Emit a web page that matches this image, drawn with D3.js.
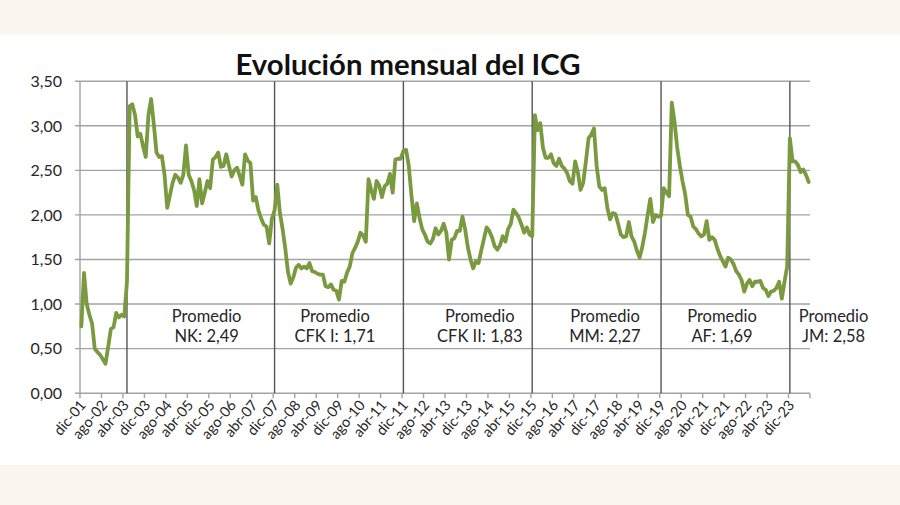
<!DOCTYPE html>
<html><head><meta charset="utf-8">
<script src="https://cdn.jsdelivr.net/npm/d3@7"></script>
<style>
html,body{margin:0;padding:0;background:#fff;}
svg{display:block;font-family:Lato,"Open Sans",sans-serif;}
</style></head><body>
<svg id="chart" width="900" height="505"></svg>
<script>
// ---------- DATA ----------
const title = "Evolución mensual del ICG";
// Monthly ICG, dic-01 .. jul-24
const icg = [
0.75,1.35,1.00,0.88,0.78,0.50,0.46,0.43,0.38,0.33,0.52,0.72,0.74,0.90,0.85,0.88,0.86,1.25,
3.22,3.24,3.12,2.88,2.91,2.77,2.65,3.12,3.30,3.02,2.70,2.65,2.66,2.45,2.08,2.22,2.36,2.45,
2.42,2.36,2.45,2.78,2.45,2.38,2.28,2.10,2.40,2.13,2.25,2.38,2.30,2.62,2.65,2.70,2.54,2.55,
2.68,2.55,2.43,2.50,2.53,2.44,2.34,2.68,2.61,2.58,2.16,2.20,2.05,1.96,1.89,1.87,1.68,1.96,
2.05,2.34,2.02,1.84,1.62,1.36,1.23,1.30,1.41,1.44,1.40,1.42,1.40,1.46,1.37,1.36,1.34,1.33,
1.33,1.20,1.19,1.22,1.16,1.15,1.05,1.26,1.25,1.35,1.42,1.57,1.63,1.70,1.80,1.77,1.70,2.40,
2.28,2.18,2.38,2.33,2.20,2.32,2.35,2.46,2.25,2.62,2.63,2.63,
2.72,2.73,2.55,2.22,1.93,2.13,1.97,1.84,1.78,1.70,1.68,1.73,1.85,1.78,1.82,1.90,1.80,1.50,
1.72,1.74,1.82,1.82,1.98,1.84,1.64,1.50,1.40,1.48,1.46,1.60,1.73,1.86,1.82,1.75,1.65,1.61,
1.66,1.76,1.70,1.84,1.90,2.06,2.02,1.97,1.89,1.80,1.86,1.78,
1.76,3.12,2.95,3.03,2.75,2.64,2.64,2.68,2.58,2.55,2.63,2.55,2.52,2.47,2.38,2.35,2.60,2.48,
2.28,2.36,2.60,2.86,2.90,2.97,2.55,2.32,2.28,2.30,2.08,1.95,2.02,2.01,1.90,1.78,1.75,1.76,
1.92,1.76,1.70,1.60,1.52,1.64,1.80,2.00,2.18,1.92,2.00,1.98,
1.99,2.30,2.25,2.21,3.26,3.05,2.76,2.55,2.38,2.23,2.00,1.98,1.87,1.84,1.79,1.76,1.78,1.93,
1.72,1.75,1.72,1.62,1.54,1.48,1.42,1.52,1.50,1.45,1.37,1.33,1.27,1.14,1.23,1.27,1.20,1.25,
1.25,1.26,1.18,1.16,1.09,1.14,1.15,1.18,1.25,1.06,1.25,1.42,
2.86,2.60,2.60,2.56,2.48,2.51,2.45,2.37
];
const tickLabels = ["dic-01","ago-02","abr-03","dic-03","ago-04","abr-05","dic-05","ago-06","abr-07",
"dic-07","ago-08","abr-09","dic-09","ago-10","abr-11","dic-11","ago-12","abr-13","dic-13","ago-14",
"abr-15","dic-15","ago-16","abr-17","dic-17","ago-18","abr-19","dic-19","ago-20","abr-21","dic-21",
"ago-22","abr-23","dic-23"];
const tickStep = 8;
const yTicks = [0,0.5,1,1.5,2,2.5,3,3.5];
const periodNames = ["NK","CFK I","CFK II","MM","AF","JM"];
const periodStarts = [17,72,120,168,216,264];
const periodAvgs = ["2,49","1,71","1,83","2,27","1,69","2,58"];

// ---------- LAYOUT ----------
const W = 900, H = 505;
const L = 80, R = 810, T = 81.2, B = 393.2;
const labelIdx = [46.7, 94.5, 148.5, 195.1, 238.7, 280.3];
const lineColor = "#7a9a40";
const textColor = "#262626";

const svg = d3.select("#chart");
svg.append("rect").attr("width",W).attr("height",H).attr("fill","#ffffff");
svg.append("rect").attr("x",0).attr("y",0).attr("width",W).attr("height",34).attr("fill","#faf6ef");
svg.append("rect").attr("x",0).attr("y",465).attr("width",W).attr("height",40).attr("fill","#fbf7f0");

const x = d3.scaleLinear().domain([-0.5, icg.length - 0.5]).range([L, R]);
const y = d3.scaleLinear().domain([0, 3.5]).range([B, T]);
const fmt = d3.formatLocale({decimal:",", thousands:".", grouping:[3], currency:["$",""]}).format(".2f");

// gridlines
svg.append("g").selectAll("line").data(yTicks).join("line")
  .attr("x1", L - 5).attr("x2", R)
  .attr("y1", d => y(d)).attr("y2", d => y(d))
  .attr("stroke", "#a3a3a3").attr("stroke-width", 1.4);

// y axis line
svg.append("line").attr("x1",L).attr("x2",L).attr("y1",y(3.5)).attr("y2",y(0))
  .attr("stroke","#a3a3a3").attr("stroke-width",1.4);

// y labels
svg.append("g").selectAll("text").data(yTicks).join("text")
  .attr("x", 62).attr("y", d => y(d)).attr("dy","0.36em")
  .attr("text-anchor","end").attr("font-size", 16).attr("fill", textColor)
  .text(d => fmt(d));

// x tick marks (at category boundaries every 8 months)
const tickIdx = d3.range(0, icg.length + 1, tickStep);
svg.append("g").selectAll("line").data(tickIdx).join("line")
  .attr("x1", d => x(d - 0.5)).attr("x2", d => x(d - 0.5))
  .attr("y1", y(0)).attr("y2", y(0) + 5)
  .attr("stroke", "#a3a3a3").attr("stroke-width", 1.4);

// x labels
svg.append("g").selectAll("text").data(tickLabels).join("text")
  .attr("transform", (d,i) => `translate(${x(i*tickStep)+1.5},${y(0)+9}) rotate(-50)`)
  .attr("text-anchor","end").attr("dy","0.35em")
  .attr("font-size", 14.5).attr("fill", textColor)
  .text(d => d);

// period separators
svg.append("g").selectAll("line").data(periodStarts).join("line")
  .attr("x1", d => x(d)).attr("x2", d => x(d))
  .attr("y1", y(3.5)).attr("y2", y(0))
  .attr("stroke", "#555555").attr("stroke-width", 1.4);

// line
const line = d3.line().x((d,i) => x(i)).y(d => y(d));
svg.append("path").datum(icg).attr("d", line)
  .attr("fill","none").attr("stroke", lineColor).attr("stroke-width", 3.8)
  .attr("stroke-linejoin","round").attr("stroke-linecap","round");

// annotations
const ann = svg.append("g").attr("font-size", 16.5).attr("fill", textColor).attr("text-anchor","middle");
periodNames.forEach((n,i) => {
  const cx = x(labelIdx[i]);
  ann.append("text").attr("x", cx).attr("y", 322).text("Promedio");
  ann.append("text").attr("x", cx).attr("y", 342).text(`${n}: ${periodAvgs[i]}`);
});

// title
const t = svg.append("text").attr("x", 408).attr("y", 75).attr("text-anchor","middle")
  .attr("font-weight","bold").attr("font-size", 27).attr("fill","#111").text(title);
const tw = t.node().getComputedTextLength();
t.attr("font-size", 27 * 345 / tw);
</script>
</body></html>
